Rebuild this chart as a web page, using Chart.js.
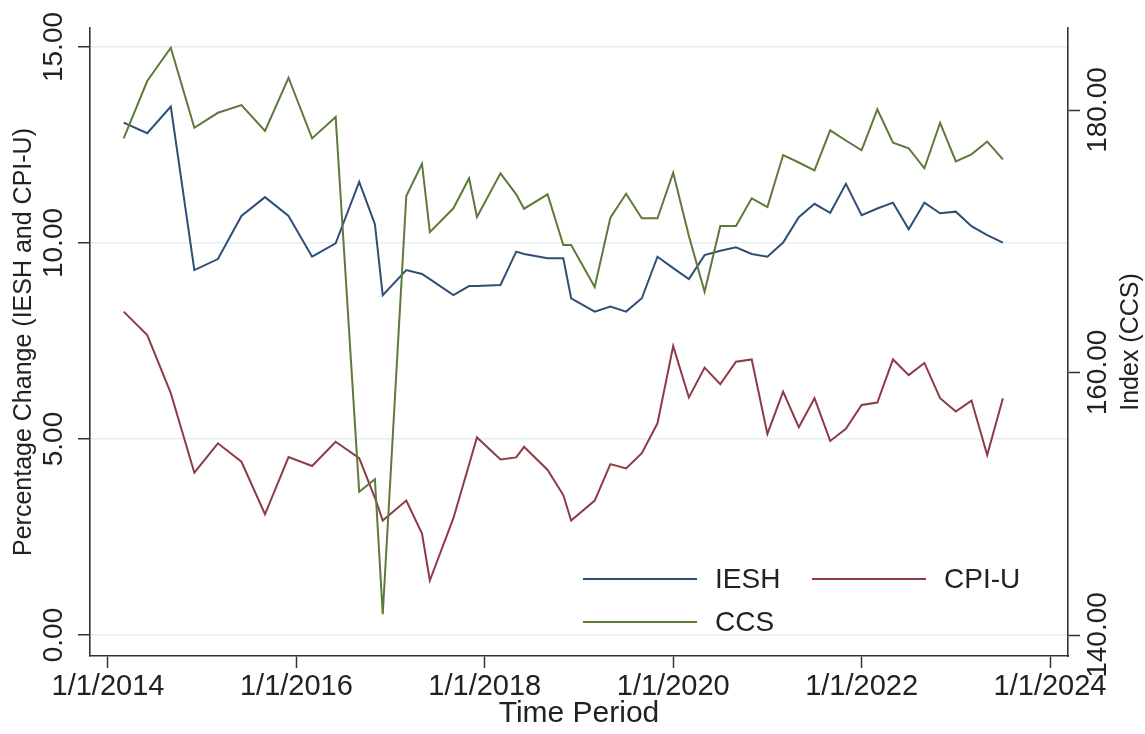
<!DOCTYPE html>
<html>
<head>
<meta charset="utf-8">
<script src="https://cdn.jsdelivr.net/npm/chart.js@4.4.1/dist/chart.umd.min.js"></script>
<style>
  html, body { margin: 0; padding: 0; background: #ffffff; }
  #wrap { width: 1145px; height: 734px; position: relative; }
</style>
</head>
<body>
<div id="wrap"><canvas id="c" width="1145" height="734"></canvas></div>
<script>
// Observation dates (year-month)
const periods = [
  '2014-03','2014-06','2014-09','2014-12',
  '2015-03','2015-06','2015-09','2015-12',
  '2016-03','2016-06','2016-09','2016-11','2016-12',
  '2017-03','2017-05','2017-06','2017-09','2017-11','2017-12',
  '2018-03','2018-05','2018-06','2018-09','2018-11','2018-12',
  '2019-03','2019-05','2019-07','2019-09','2019-11',
  '2020-01','2020-03','2020-05','2020-07','2020-09','2020-11',
  '2021-01','2021-03','2021-05','2021-07','2021-09','2021-11',
  '2022-01','2022-03','2022-05','2022-07','2022-09','2022-11',
  '2023-01','2023-03','2023-05','2023-07'
];

// Percentage change, IESH (left axis)
const iesh = [
  13.07, 12.80, 13.48, 9.31,
  9.59, 10.69, 11.17, 10.69,
  9.65, 9.99, 11.56, 10.48, 8.67,
  9.31, 9.21, 9.08, 8.67, 8.90, 8.90,
  8.93, 9.78, 9.72, 9.61, 9.61, 8.59,
  8.25, 8.38, 8.25, 8.59, 9.65,
  9.36, 9.08, 9.69, 9.80, 9.89, 9.72,
  9.65, 10.01, 10.66, 11.00, 10.77, 11.51,
  10.71, 10.88, 11.03, 10.35, 11.03, 10.76,
  10.80, 10.43, 10.20, 10.01
];

// Percentage change, CPI-U (left axis)
const cpiu = [
  8.25, 7.65, 6.17, 4.14,
  4.89, 4.42, 3.08, 4.54,
  4.31, 4.93, 4.51, 3.50, 2.92,
  3.43, 2.59, 1.39, 2.98, 4.35, 5.04,
  4.48, 4.53, 4.80, 4.21, 3.57, 2.92,
  3.43, 4.36, 4.25, 4.64, 5.40,
  7.37, 6.06, 6.82, 6.40, 6.97, 7.03,
  5.13, 6.21, 5.30, 6.04, 4.95, 5.26,
  5.87, 5.93, 7.03, 6.63, 6.94, 6.04,
  5.70, 5.98, 4.59, 6.04
];

// CCS index (right axis)
const ccs = [
  177.84, 182.21, 184.75, 178.65,
  179.79, 180.38, 178.40, 182.46,
  177.84, 179.47, 150.92, 151.87, 141.58,
  173.45, 175.91, 170.70, 172.51, 174.80, 171.85,
  175.18, 173.58, 172.48, 173.58, 169.71, 169.71,
  166.51, 171.80, 173.62, 171.75, 171.75,
  175.22, 170.40, 166.16, 171.16, 171.16, 173.27,
  172.61, 176.57, 176.00, 175.40, 178.45, 177.68,
  176.93, 180.05, 177.51, 177.08, 175.56, 179.03,
  176.08, 176.62, 177.60, 176.24
];

// Axis ticks
const xTickYears = [2014, 2016, 2018, 2020, 2022, 2024];
const leftTicks = [0, 5, 10, 15];
const rightTicks = [140, 160, 180];

const xTitle = 'Time Period';
const leftTitle = 'Percentage Change (IESH and CPI-U)';
const rightTitle = 'Index (CCS)';

const FONT = '"Liberation Sans", Arial, Helvetica, sans-serif';
const INK = '#222222';
const AXIS = '#333333';

function toYear(p) {
  const [y, m] = p.split('-').map(Number);
  return y + (m - 1) / 12;
}
const series = vals => vals.map((v, i) => ({ x: toYear(periods[i]), y: v }));

// Rotated tick labels, axis titles and the in-plot legend
const decorations = {
  id: 'decorations',
  afterDraw(chart) {
    const { ctx, chartArea, scales } = chart;
    const midY = (chartArea.top + chartArea.bottom) / 2;
    const rotated = (txt, x, y, size) => {
      ctx.save();
      ctx.translate(x, y);
      ctx.rotate(-Math.PI / 2);
      ctx.font = size + 'px ' + FONT;
      ctx.fillStyle = INK;
      ctx.textAlign = 'center';
      ctx.textBaseline = 'middle';
      ctx.fillText(txt, 0, 0);
      ctx.restore();
    };
    scales.y.ticks.forEach(t => rotated(t.value.toFixed(2), 54, scales.y.getPixelForValue(t.value), 28));
    scales.y1.ticks.forEach(t => rotated(t.value.toFixed(2), 1098, scales.y1.getPixelForValue(t.value), 28));
    rotated(leftTitle, 24, midY, 25);
    rotated(rightTitle, 1131, midY, 25);

    // legend: two columns, three entries
    const slots = [
      { x: 583, y: 579 },
      { x: 812, y: 579 },
      { x: 583, y: 622 }
    ];
    chart.data.datasets.forEach((ds, i) => {
      const s = slots[i];
      ctx.save();
      ctx.strokeStyle = ds.borderColor;
      ctx.lineWidth = 2;
      ctx.beginPath();
      ctx.moveTo(s.x, s.y);
      ctx.lineTo(s.x + 114, s.y);
      ctx.stroke();
      ctx.font = '28px ' + FONT;
      ctx.fillStyle = INK;
      ctx.textAlign = 'left';
      ctx.textBaseline = 'middle';
      ctx.fillText(ds.label, s.x + 132, s.y + 1);
      ctx.restore();
    });
  }
};

new Chart(document.getElementById('c'), {
  type: 'line',
  data: {
    datasets: [
      { label: 'IESH', data: series(iesh), yAxisID: 'y', borderColor: '#2f4f75', order: 3 },
      { label: 'CPI-U', data: series(cpiu), yAxisID: 'y', borderColor: '#8f3a44', order: 2 },
      { label: 'CCS', data: series(ccs), yAxisID: 'y1', borderColor: '#5d7a3a', order: 1 }
    ]
  },
  options: {
    responsive: false,
    animation: false,
    devicePixelRatio: 1,
    layout: { padding: { top: 28, left: 0, right: 0, bottom: 0 } },
    elements: {
      line: { borderWidth: 2, tension: 0, fill: false },
      point: { radius: 0, hoverRadius: 0 }
    },
    plugins: { legend: { display: false }, tooltip: { enabled: false } },
    scales: {
      x: {
        type: 'linear',
        position: 'bottom',
        min: 2013.809,
        max: 2024.191,
        afterBuildTicks: s => { s.ticks = xTickYears.map(v => ({ value: v })); },
        afterFit: s => { s.height = 78; },
        ticks: {
          autoSkip: false, maxRotation: 0, minRotation: 0, padding: 2,
          color: INK, font: { family: FONT, size: 29 },
          callback: v => '1/1/' + v
        },
        grid: { drawOnChartArea: false, drawTicks: true, tickLength: 12, tickColor: AXIS, tickWidth: 1.5 },
        border: { display: true, color: AXIS, width: 1.6 },
        title: { display: true, text: xTitle, color: INK, font: { family: FONT, size: 30 }, padding: { top: 0, bottom: 2 } }
      },
      y: {
        type: 'linear',
        position: 'left',
        min: -0.536,
        max: 15.485,
        afterBuildTicks: s => { s.ticks = leftTicks.map(v => ({ value: v })); },
        afterFit: s => { s.width = 90; },
        ticks: { display: false },
        grid: { drawOnChartArea: true, color: '#e5eef0', lineWidth: 1.5, drawTicks: true, tickLength: 12, tickColor: AXIS, tickWidth: 1.5 },
        border: { display: true, color: AXIS, width: 1.6 }
      },
      y1: {
        type: 'linear',
        position: 'right',
        min: 138.40,
        max: 186.25,
        afterBuildTicks: s => { s.ticks = rightTicks.map(v => ({ value: v })); },
        afterFit: s => { s.width = 77; },
        ticks: { display: false },
        grid: { drawOnChartArea: false, drawTicks: true, tickLength: 12, tickColor: AXIS, tickWidth: 1.5 },
        border: { display: true, color: AXIS, width: 1.6 }
      }
    }
  },
  plugins: [decorations]
});
</script>
</body>
</html>
